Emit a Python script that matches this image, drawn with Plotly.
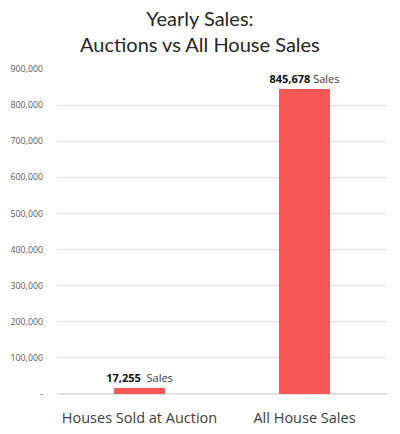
import plotly.graph_objects as go

# chart data
categories = ["Houses Sold at Auction", "All House Sales"]
sales = [17255, 845678]
tick_values = [0, 100000, 200000, 300000, 400000, 500000, 600000, 700000, 800000, 900000]
tick_labels = ["-", "100,000", "200,000", "300,000", "400,000", "500,000",
               "600,000", "700,000", "800,000", "900,000"]

# the page body keeps an 8px margin, so the figure is a bit smaller than the window
W, H = 384, 418

fig = go.Figure()

fig.add_trace(go.Bar(
    x=categories,
    y=sales,
    width=0.315,
    marker=dict(color="#F95858", line=dict(width=0)),
    texttemplate=["<b>%{y:,}</b>  <span style='color:#404040'>Sales</span>",
                  "<b>%{y:,}</b> <span style='color:#404040'>Sales</span>"],
    textposition="outside",
    constraintext="none",
    textfont=dict(family="Open Sans", size=11, color="#111111"),
    cliponaxis=False,
    hoverinfo="skip",
))

fig.update_layout(
    width=W,
    height=H,
    margin=dict(l=49, r=5, t=61, b=32),
    paper_bgcolor="white",
    plot_bgcolor="white",
    showlegend=False,
    xaxis=dict(
        showgrid=False, showline=False, zeroline=False,
        tickfont=dict(family="Open Sans", size=14.5, color="#404040"),
        ticks="",
        ticklabelstandoff=13,
        automargin=False,
    ),
    yaxis=dict(
        range=[0, 900000],
        tickvals=tick_values,
        ticktext=tick_labels,
        showgrid=True, gridcolor="#E3E3E3", gridwidth=1,
        zeroline=True, zerolinecolor="#E3E3E3",
        showline=False,
        tickfont=dict(family="Open Sans", size=8.8, color="#595959"),
        ticklabelstandoff=13,
        automargin=False,
    ),
    bargap=0.0,
)

# two-line title as an annotation so it sits where the reference has it
fig.add_annotation(
    text="Yearly Sales:<br>Auctions vs All House Sales",
    xref="paper", yref="paper",
    x=(192 - 49) / 330, y=(386 - 24) / 324,
    xanchor="center", yanchor="middle",
    showarrow=False,
    font=dict(family="Lato", size=20, color="#262626"),
)

fig.write_html("out.html")
